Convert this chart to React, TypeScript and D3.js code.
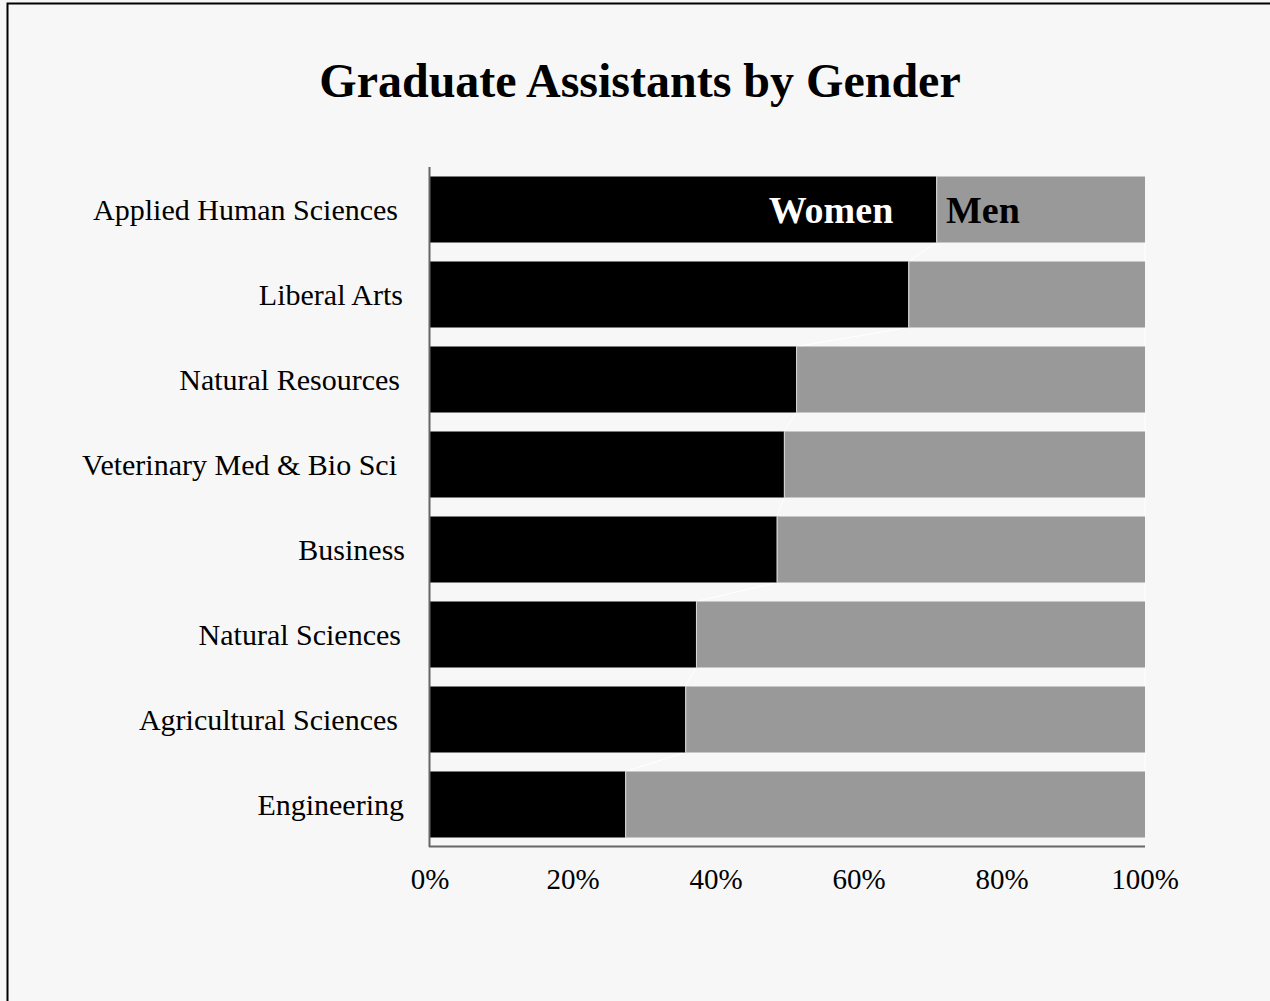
import React from "react";
import * as d3 from "d3";

const categories = [
  "Applied Human Sciences",
  "Liberal Arts",
  "Natural Resources",
  "Veterinary Med & Bio Sci",
  "Business",
  "Natural Sciences",
  "Agricultural Sciences",
  "Engineering",
];
const women = [70.8, 66.9, 51.2, 49.5, 48.5, 37.2, 35.7, 27.3];
const men = women.map((w) => 100 - w);
const xTicks = [0, 20, 40, 60, 80, 100];
const title = "Graduate Assistants by Gender";
const seriesNames = ["Women", "Men"];
const labelRight = [398, 403, 400, 397, 405, 401, 398, 404];

export default function App() {
  const W = 1270;
  const H = 1001;
  const x0 = 430;
  const x1 = 1145;
  const yTop = 167;
  const yBot = 847;
  const x = d3.scaleLinear().domain([0, 100]).range([x0, x1]);
  const y = d3
    .scaleBand<string>()
    .domain(categories)
    .range([yTop, yBot])
    .paddingInner(19 / 85)
    .paddingOuter(9.5 / 85);
  const bw = y.bandwidth();
  const font = "'Liberation Serif', 'Times New Roman', Times, serif";

  return (
    <svg
      width={W}
      height={H}
      style={{ position: "absolute", left: 0, top: 0, background: "#f7f7f7" }}
    >
      <rect x={0} y={0} width={W} height={H} fill="#f7f7f7" />
      <rect x={7.5} y={3.5} width={W + 20} height={H + 20} fill="none" stroke="#000" strokeWidth={2} />
      <text x={640} y={97} textAnchor="middle" fontFamily={font} fontWeight="bold" fontSize={48} fill="#000">
        {title}
      </text>
      {categories.slice(0, -1).map((c, i) => (
        <g key={"sl" + i}>
          <line
            x1={x(women[i])}
            y1={(y(c) as number) + bw}
            x2={x(women[i + 1])}
            y2={y(categories[i + 1]) as number}
            stroke="#ffffff"
            strokeWidth={1}
          />
          <line
            x1={x(100)}
            y1={(y(c) as number) + bw}
            x2={x(100)}
            y2={y(categories[i + 1]) as number}
            stroke="#ffffff"
            strokeWidth={1}
          />
        </g>
      ))}
      {categories.map((c, i) => (
        <g key={c}>
          <rect x={x(0)} y={y(c)} width={x(women[i]) - x(0)} height={bw} fill="#000" />
          <rect x={x(women[i])} y={y(c)} width={x(100) - x(women[i])} height={bw} fill="#999999" />
          <line
            x1={x(women[i]) + 0.5}
            x2={x(women[i]) + 0.5}
            y1={y(c)}
            y2={(y(c) as number) + bw}
            stroke="#d8d8d8"
            strokeWidth={1}
          />
          <text
            x={labelRight[i]}
            y={(y(c) as number) + bw / 2}
            dy="0.35em"
            textAnchor="end"
            fontFamily={font}
            fontSize={30}
            fill="#000"
          >
            {c}
          </text>
        </g>
      ))}
      <line x1={x0 - 0.5} x2={x0 - 0.5} y1={yTop} y2={yBot} stroke="#666" strokeWidth={2} />
      <line x1={x0 - 1} x2={x1} y1={yBot - 0.5} y2={yBot - 0.5} stroke="#666" strokeWidth={2} />
      {xTicks.map((t) => (
        <text
          key={t}
          x={x(t)}
          y={889}
          textAnchor="middle"
          fontFamily={font}
          fontSize={29}
          fill="#000"
        >
          {t + "%"}
        </text>
      ))}
      <text
        x={831}
        y={(y(categories[0]) as number) + bw / 2}
        dy="0.35em"
        textAnchor="middle"
        fontFamily={font}
        fontWeight="bold"
        fontSize={38}
        fill="#fff"
      >
        {seriesNames[0]}
      </text>
      <text
        x={946}
        y={(y(categories[0]) as number) + bw / 2}
        dy="0.35em"
        textAnchor="start"
        fontFamily={font}
        fontWeight="bold"
        fontSize={38}
        fill="#000"
      >
        {seriesNames[1]}
      </text>
    </svg>
  );
}
